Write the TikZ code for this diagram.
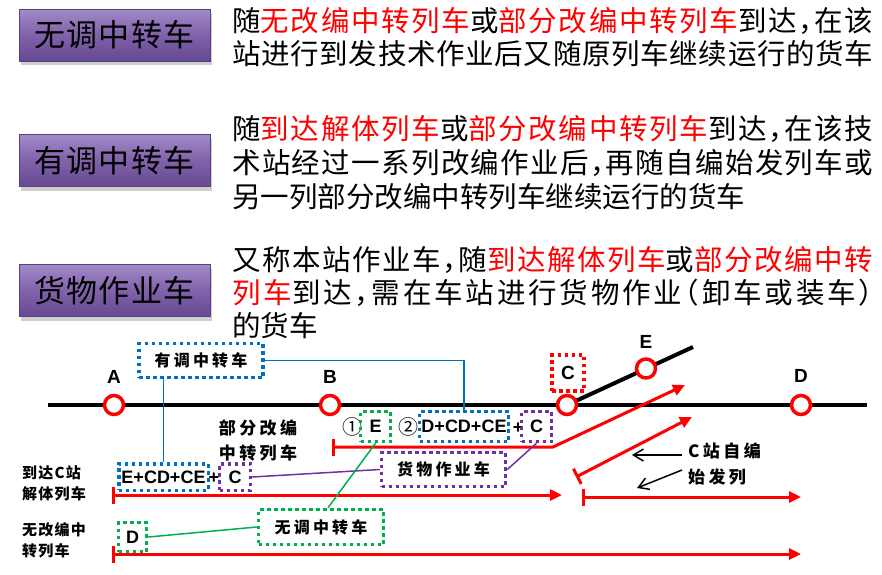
\documentclass[tikz,border=0pt]{standalone}
\usepackage{fontspec}
\setmainfont{Liberation Sans}
\newfontfamily\cjk[RawFeature={+halt}]{Noto Sans CJK SC}
\newfontfamily\bcjk[LetterSpace=4]{Noto Sans CJK SC}
\newfontfamily\dcjk[LetterSpace=20]{Noto Sans CJK SC}
\newfontfamily\scjk[LetterSpace=8]{Noto Sans CJK SC}
\newfontfamily\ccjk{Noto Sans CJK SC}
\usetikzlibrary{arrows.meta,shadows,calc}
\definecolor{myblue}{HTML}{0070C0}
\definecolor{mygreen}{HTML}{00B050}
\definecolor{mypurple}{HTML}{7030A0}
\definecolor{myred}{HTML}{FF0000}
\definecolor{btntop}{HTML}{A28AC8}
\definecolor{btnmid}{HTML}{7F62AA}
\definecolor{btnbot}{HTML}{654891}
\definecolor{btnedge}{HTML}{5A4085}
\newcount\cjkc
\cjkc="4E00
\loop\ifnum\cjkc<"A000 \XeTeXcharclass\cjkc=1 \advance\cjkc by 1 \repeat
\XeTeXcharclass"FF0C=1
\XeTeXcharclass"FF08=1
\XeTeXcharclass"FF09=1
\XeTeXinterchartokenstate=1
\XeTeXinterchartoks 1 1 = {\hskip 0pt plus 8pt\relax}
\newcommand\rtx[1]{\textcolor{myred}{#1}}
\newcommand\nojust{\XeTeXinterchartokenstate=0\relax}
\tikzset{
 btn/.style={rectangle, minimum width=191pt, minimum height=52pt, inner sep=0pt,
   top color=btntop, bottom color=btnbot, middle color=btnmid, draw=btnedge, line width=0.8pt,
   drop shadow={shadow xshift=1.5pt, shadow yshift=-4pt, opacity=0.35, fill=black!55},
   font=\nojust\bcjk\fontsize{31}{31}\selectfont},
 para/.style={anchor=base west, inner sep=0pt, font=\cjk\fontsize{28.5}{34}\selectfont},
 stn/.style={circle, draw=myred, fill=white, line width=3.5pt, minimum size=19pt, inner sep=0pt},
 stlbl/.style={font=\bfseries\fontsize{19}{19}\selectfont, inner sep=0pt},
 dbox/.style={draw=#1, line width=3.5pt, dash pattern=on 3.5pt off 3.5pt, inner sep=0pt},
 ltx/.style={font=\bfseries\fontsize{18}{18}\selectfont},
 mainline/.style={line width=4pt, draw=black},
 redarr/.style={draw=myred, line width=3pt, arrows={Bar[width=17pt]-Triangle[length=12pt,width=11pt]}},
 barr/.style={draw=black, line width=1.5pt, -{Straight Barb[length=10pt,width=12pt]}},
 conn/.style={draw=#1, line width=1.5pt},
 dlab/.style={font=\nojust\dcjk\bfseries\fontsize{16}{16}\selectfont, inner sep=0pt},
}
\begin{document}
\begin{tikzpicture}[x=1pt,y=-1pt]
\useasboundingbox (0,0) rectangle (882,574);
\fill[white] (0,0) rectangle (882,574);

% buttons
\node[btn] (b1) at (114.5,35) {无调中转车};
\node[btn] (b2) at (114.5,160.5) {有调中转车};
\node[btn] (b3) at (114.5,290.5) {货物作业车};

% paragraphs
\node[para] (t11) at (232,31) {\hbox to 641pt{随\rtx{无改编中转列车}或\rtx{部分改编中转列车}到达，在该}};
\node[para] (t12) at (232,64) {\hbox to 641pt{站进行到发技术作业后又随原列车继续运行的货车}};
\node[para] (t21) at (232,139) {\hbox to 641pt{随\rtx{到达解体列车}或\rtx{部分改编中转列车}到达，在该技}};
\node[para] (t22) at (232,173) {\hbox to 641pt{术站经过一系列改编作业后，再随自编始发列车或}};
\node[para] (t23) at (232,207) {另一列部分改编中转列车继续运行的货车};
\node[para] (t31) at (232,270) {\hbox to 641pt{又称本站作业车，随\rtx{到达解体列车}或\rtx{部分改编中转}}};
\node[para] (t32) at (232,303) {\hbox to 641pt{\rtx{列车}到达，需在车站进行货物作业（卸车或装车）}};
\node[para] (t33) at (232,336) {的货车};

% main line and branch
\coordinate (mlL) at (48,405);
\coordinate (mlR) at (867,405);
\coordinate (cA) at (114,405);
\coordinate (cB) at (330,405);
\coordinate (cC) at (567,405);
\coordinate (cD) at (801,405);
\coordinate (cE) at (646,368.5);
\coordinate (brEnd) at (693,347);
\draw[mainline] (mlL) -- (mlR);
\draw[mainline] (cC) -- (brEnd);

% red train arrows
\coordinate (r1s) at (332,447);
\coordinate (r1c) at (553,447);
\coordinate (r1e) at (685,385);
\draw[redarr, line join=round] (r1s) -- (r1c) -- (r1e);
\coordinate (r2s) at (112,495);
\coordinate (r2e) at (562,495);
\draw[redarr] (r2s) -- (r2e);
\coordinate (r3s) at (112,554);
\coordinate (r3e) at (801,554);
\draw[redarr] (r3s) -- (r3e);
\coordinate (r4s) at (582,497);
\coordinate (r4e) at (801,497);
\draw[redarr] (r4s) -- (r4e);
\coordinate (r5s) at (576,477);
\coordinate (r5e) at (692,417);
\draw[redarr] (r5s) -- (r5e);

% stations
\node[stn] (sA) at (cA) {};
\node[stn] (sB) at (cB) {};
\node[stn] (sC) at (cC) {};
\node[stn] (sD) at (cD) {};
\node[stn] (sE) at (cE) {};
\node[stlbl] (lA) at (114,377) {A};
\node[stlbl] (lB) at (330,377) {B};
\node[stlbl] (lD) at (801,376) {D};
\node[stlbl] (lE) at (646,342) {E};
\node[dbox=myred, minimum width=32pt, minimum height=36pt, stlbl] (rC) at (568,373) {C};

% dotted boxes
\node[dbox=myblue, minimum width=124pt, minimum height=34pt, dlab] (yd) at (201,360.5) {有调中转车};
\node[dbox=myblue, minimum width=89.5pt, minimum height=26.5pt, ltx] (bE1) at (163.5,477) {E+CD+CE};
\node[ltx, inner sep=0pt] (plus1) at (214,478) {+};
\node[dbox=mypurple, minimum width=31pt, minimum height=26.5pt, ltx] (pC1) at (235,477) {C};
\node[dbox=mygreen, minimum width=28pt, minimum height=29pt, ltx] (gD) at (132.5,537) {D};
\node[dbox=mygreen, minimum width=125pt, minimum height=35pt, dlab] (wd) at (321,527) {无调中转车};
\node[font=\ccjk\fontsize{20}{20}\selectfont, inner sep=0pt] (n1) at (352,427) {①};
\node[dbox=mygreen, minimum width=30pt, minimum height=30pt, ltx] (gE) at (375.5,426.5) {E};
\node[font=\ccjk\fontsize{20}{20}\selectfont, inner sep=0pt] (n2) at (408,427) {②};
\node[dbox=myblue, minimum width=89pt, minimum height=30pt, ltx] (bD) at (464,426.5) {D+CD+CE};
\node[ltx, inner sep=0pt] (plus2) at (518,428) {+};
\node[dbox=mypurple, minimum width=30pt, minimum height=30pt, ltx] (pC2) at (536.5,426.5) {C};
\node[dbox=mypurple, minimum width=124pt, minimum height=34pt, dlab] (hw) at (443.5,469.5) {货物作业车};

% connectors
\draw[conn=myblue] (yd.east) -| (bD.north);
\draw[conn=myblue] (bE1.north) -- (bE1.north |- yd.south);
\draw[conn=mypurple] (pC1.east) -- (hw.west);
\draw[conn=mypurple] (hw.east) -- (pC2.south);
\draw[conn=mygreen] (gD.east) -- (wd.west);
\draw[conn=mygreen] ($(wd.north)+(7,0)$) -- (gE.south);

% labels
\node[anchor=west, align=left, inner sep=0pt, font=\nojust\scjk\bfseries\fontsize{15}{21}\selectfont] (lbl1) at (22,483.5) {到达C站\\解体列车};
\node[anchor=west, align=left, inner sep=0pt, font=\nojust\scjk\bfseries\fontsize{15}{21}\selectfont] (lbl2) at (22,540) {无改编中\\转列车};
\node[align=center, inner sep=0pt, font=\nojust\dcjk\bfseries\fontsize{17}{25}\selectfont] (lbl3) at (258,440.5) {部分改编\\中转列车};
\node[anchor=west, align=left, inner sep=0pt, font=\nojust\dcjk\bfseries\fontsize{17}{26}\selectfont] (lbl4) at (688,464) {C站自编\\始发列};
\coordinate (a1s) at (682,455);
\coordinate (a1e) at (632,455);
\coordinate (a2s) at (682,470);
\coordinate (a2e) at (637,488);
\draw[barr] (a1s) -- (a1e);
\draw[barr] (a2s) -- (a2e);
\end{tikzpicture}
\end{document}
